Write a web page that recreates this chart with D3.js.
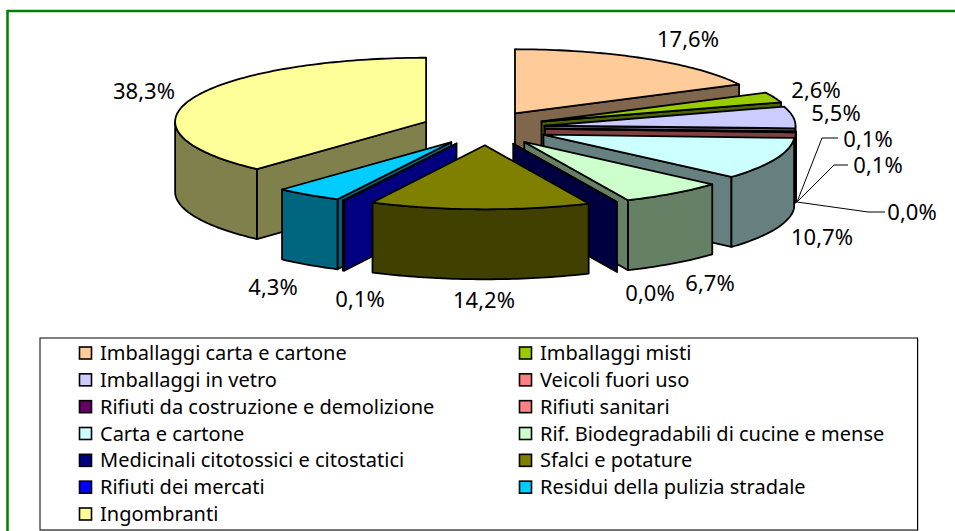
<!DOCTYPE html>
<html><head><meta charset="utf-8">
<script src="https://cdn.jsdelivr.net/npm/d3@7"></script>
<style>html,body{margin:0;padding:0;background:#fff}svg{display:block}text{font-family:"Noto Sans",sans-serif;fill:#000}</style>
</head><body><div id="c"></div>
<script>
const categories=["Imballaggi carta e cartone","Imballaggi misti","Imballaggi in vetro","Veicoli fuori uso","Rifiuti da costruzione e demolizione","Rifiuti sanitari","Carta e cartone","Rif. Biodegradabili di cucine e mense","Medicinali citotossici e citostatici","Sfalci e potature","Rifiuti dei mercati","Residui della pulizia stradale","Ingombranti"];
const values=[17.6,2.6,5.5,0.1,0.1,0.0,10.7,6.7,0.0,14.2,0.1,4.3,38.3];
const labels=["17,6%","2,6%","5,5%","0,1%","0,1%","0,0%","10,7%","6,7%","0,0%","14,2%","0,1%","4,3%","38,3%"];
const colors=["#ffcc99","#99cc00","#ccccff","#ff8080","#660066","#ff8080","#ccffff","#ccffcc","#000080","#808000","#0000ff","#00ccff","#ffff99"];

// layout
const W=955,H=531;
const cx=483,cy=128,rx=251,ry=64,depth=70,explodeX=61,explodeY=17.3;
const nudgeX=[0,2,1,1,1,1,4,5,5,3,1,3,0];
const labelXY=[[688,47],[816,98],[836,121],[868,147],[878,173],[912,220],[822,245],[710,291],[650,301],[484,308],[360,307],[273,295],[144,99]];
const leaders=[3,4,5];
const leaderPts={3:[[797,202],[822,138],[838,138]],4:[[797,202],[834,165],[848,165]],5:[[797,202],[868,212],[885,212]]};

const svg=d3.select("#c").append("svg").attr("width",W).attr("height",H);
svg.append("path").attr("d",`M7.5,${H+5}V11H${W+5}`).attr("fill","none").attr("stroke","#008000").attr("stroke-width",2.5);

const arcs=d3.pie().sort(null).value(d=>d).startAngle(0).endAngle(2*Math.PI)(values);
const line=d3.line();
const k=Math.PI;
function slice(a,i){
  const m=(a.startAngle+a.endAngle)/2;
  const ax=cx+nudgeX[i]+explodeX*Math.sin(m), ay=cy-explodeY*Math.cos(m);
  const pt=t=>[ax+rx*Math.sin(t),ay-ry*Math.cos(t)];
  const samples=(t0,t1)=>{const n=Math.max(2,Math.ceil((t1-t0)/0.02));return d3.range(n+1).map(j=>pt(t0+(t1-t0)*j/n));};
  return {ax,ay,pt,samples,m};
}
const order=arcs.map((a,i)=>({a,i})).sort((p,q)=>{
  const kp=Math.abs((p.a.startAngle+p.a.endAngle)/2-k), kq=Math.abs((q.a.startAngle+q.a.endAngle)/2-k);
  return kq-kp;
});
const g=svg.append("g").attr("stroke","#000").attr("stroke-width",1.8).attr("stroke-linejoin","round");
order.forEach(({a,i})=>{
  const s=slice(a,i), top=colors[i], side=d3.rgb(top);
  const dk=d3.rgb(side.r*.5,side.g*.5,side.b*.5).formatHex();
  const face=t=>{const p=s.pt(t);
    g.append("path").attr("fill",dk).attr("d",line([[s.ax,s.ay],p,[p[0],p[1]+depth],[s.ax,s.ay+depth]])+"Z");};
  if(Math.sin(a.endAngle)>0.001) face(a.endAngle);
  if(Math.sin(a.startAngle)<-0.001) face(a.startAngle);
  const w0=Math.max(a.startAngle,k/2), w1=Math.min(a.endAngle,3*k/2);
  if(w1>w0){
    const up=s.samples(w0,w1), low=up.map(p=>[p[0],p[1]+depth]).reverse();
    g.append("path").attr("fill",dk).attr("d",line(up.concat(low))+"Z");
  }
  g.append("path").attr("fill",top).attr("d",line([[s.ax,s.ay]].concat(s.samples(a.startAngle,a.endAngle)))+"Z");
});

// leader lines
leaders.forEach(i=>svg.append("path").attr("fill","none").attr("stroke","#000").attr("stroke-width",1).attr("d",line(leaderPts[i])));

// data labels
svg.append("g").selectAll("text").data(labels).join("text")
  .attr("x",(d,i)=>labelXY[i][0]).attr("y",(d,i)=>labelXY[i][1])
  .attr("text-anchor","middle").style("font-size","22px").text(d=>d);

// legend
svg.append("rect").attr("x",41).attr("y",339).attr("width",878).attr("height",192).attr("fill","#ccc");
svg.append("rect").attr("x",40).attr("y",338).attr("width",877.5).attr("height",192).attr("fill","#fff").attr("stroke","#000").attr("stroke-width",1);
const rows=d3.scaleLinear().domain([0,6]).range([353,514]);
const cols=[79,519];
const lg=svg.append("g").selectAll("g").data(categories).join("g")
  .attr("transform",(d,i)=>`translate(${cols[i%2]},${rows(Math.floor(i/2))})`);
lg.append("rect").attr("x",.5).attr("y",-6).attr("width",12).attr("height",12)
  .attr("fill",(d,i)=>colors[i]).attr("stroke","#000").attr("stroke-width",1.6);
lg.append("text").attr("x",21).attr("y",7).style("font-size","20px").text(d=>d);
</script></body></html>
